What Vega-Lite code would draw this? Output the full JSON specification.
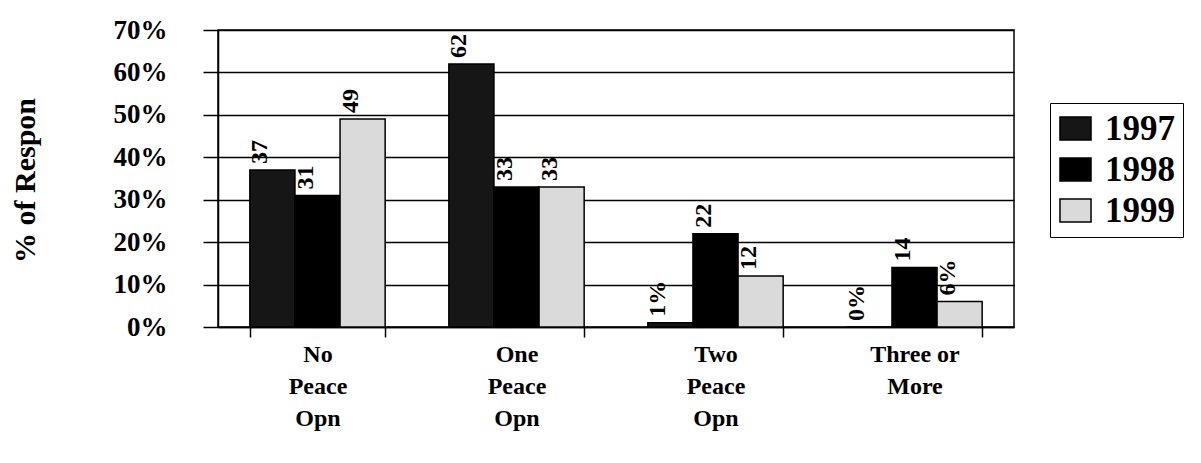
{
  "$schema": "https://vega.github.io/schema/vega-lite/v6.json",
  "autosize": "none",
  "padding": {"left": 218, "top": 30, "right": 187, "bottom": 136},
  "width": 796,
  "height": 297,
  "background": "white",
  "config": {
    "font": "Liberation Serif",
    "view": {"stroke": "black", "strokeWidth": 1.5}
  },
  "data": {
    "values": [
      {"category": "No Peace Opn", "year": "1997", "pct": 37, "label": "37"},
      {"category": "No Peace Opn", "year": "1998", "pct": 31, "label": "31"},
      {"category": "No Peace Opn", "year": "1999", "pct": 49, "label": "49"},
      {"category": "One Peace Opn", "year": "1997", "pct": 62, "label": "62"},
      {"category": "One Peace Opn", "year": "1998", "pct": 33, "label": "33"},
      {"category": "One Peace Opn", "year": "1999", "pct": 33, "label": "33"},
      {"category": "Two Peace Opn", "year": "1997", "pct": 1, "label": "1%"},
      {"category": "Two Peace Opn", "year": "1998", "pct": 22, "label": "22"},
      {"category": "Two Peace Opn", "year": "1999", "pct": 12, "label": "12"},
      {"category": "Three or More", "year": "1997", "pct": 0, "label": "0%"},
      {"category": "Three or More", "year": "1998", "pct": 14, "label": "14"},
      {"category": "Three or More", "year": "1999", "pct": 6, "label": "6%"}
    ]
  },
  "encoding": {
    "x": {
      "field": "category",
      "type": "nominal",
      "sort": ["No Peace Opn", "One Peace Opn", "Two Peace Opn", "Three or More"],
      "scale": {"paddingInner": 0.32, "paddingOuter": 0.16},
      "axis": {
        "title": null,
        "labelAngle": 0,
        "labelExpr": "datum.label == 'Three or More' ? ['Three or', 'More'] : split(datum.label, ' ')",
        "labelFont": "Liberation Serif",
        "labelFontWeight": "bold",
        "labelFontSize": 24,
        "labelLineHeight": 32,
        "labelColor": "black",
        "labelPadding": 5,
        "tickBand": "extent",
        "tickSize": 10,
        "tickColor": "black",
        "tickWidth": 1.5,
        "domainColor": "black",
        "domainWidth": 1.5,
        "grid": false
      }
    },
    "xOffset": {"field": "year", "type": "nominal", "sort": ["1997", "1998", "1999"]},
    "y": {
      "field": "pct",
      "type": "quantitative",
      "scale": {"domain": [0, 70], "nice": false},
      "axis": {
        "title": "% of Respon",
        "titleFont": "Liberation Serif",
        "titleFontWeight": "bold",
        "titleFontSize": 30,
        "titleColor": "black",
        "titleAngle": 270,
        "titleX": -193,
        "titleY": 150,
        "titleAlign": "center",
        "titleBaseline": "middle",
        "values": [0, 10, 20, 30, 40, 50, 60, 70],
        "labelExpr": "datum.value + '%'",
        "labelFont": "Liberation Serif",
        "labelFontWeight": "bold",
        "labelFontSize": 27,
        "labelColor": "black",
        "labelPadding": 36,
        "tickSize": 15,
        "tickColor": "black",
        "tickWidth": 1.5,
        "domainColor": "black",
        "domainWidth": 1.5,
        "grid": true,
        "gridColor": "black",
        "gridWidth": 1.5,
        "gridOpacity": 1
      }
    }
  },
  "layer": [
    {
      "mark": {"type": "bar", "stroke": "black", "strokeWidth": 1.5},
      "encoding": {
        "fill": {
          "field": "year",
          "type": "nominal",
          "scale": {"domain": ["1997", "1998", "1999"], "range": ["#161616", "#000000", "#dadada"]},
          "legend": {
            "title": null,
            "orient": "none",
            "legendX": 832,
            "legendY": 73,
            "strokeColor": "black",
            "fillColor": "white",
            "padding": 8,
            "symbolType": "M-1.35,-1L1.35,-1L1.35,1L-1.35,1Z",
            "symbolSize": 529,
            "symbolStrokeColor": "black",
            "symbolStrokeWidth": 1.5,
            "symbolOpacity": 1,
            "labelFont": "Liberation Serif",
            "labelFontWeight": "bold",
            "labelFontSize": 35,
            "labelColor": "black",
            "labelOffset": 12,
            "rowPadding": 5
          }
        }
      }
    },
    {
      "mark": {
        "type": "text",
        "angle": 270,
        "align": "left",
        "baseline": "middle",
        "dx": 6,
        "dy": -12,
        "font": "Liberation Serif",
        "fontWeight": "bold",
        "fontSize": 24,
        "color": "black"
      },
      "encoding": {
        "text": {"field": "label", "type": "nominal"}
      }
    }
  ]
}
